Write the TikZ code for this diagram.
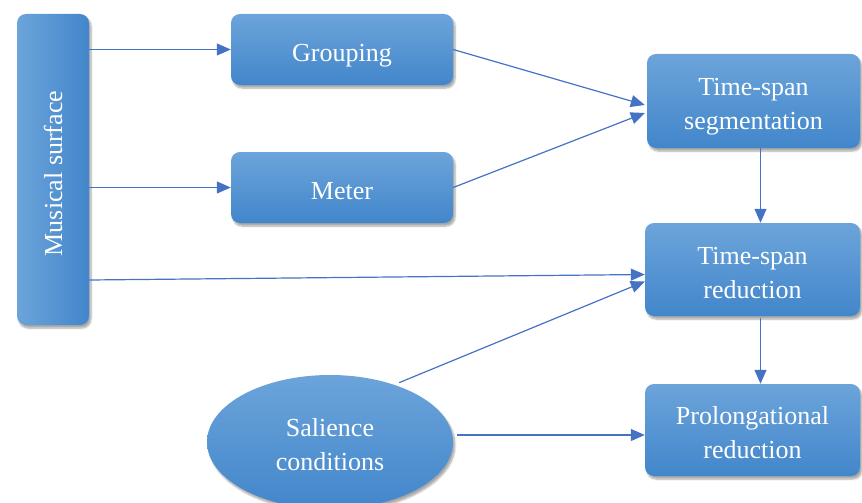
\documentclass[tikz,border=0pt]{standalone}
\usepackage{fontspec}
\setmainfont{Liberation Serif}
\usetikzlibrary{arrows.meta,shadows.blur,shapes.geometric,calc}
\definecolor{boxtop}{RGB}{108,164,218}
\definecolor{boxbot}{RGB}{66,134,203}
\definecolor{linec}{RGB}{68,114,196}
\newcommand{\lbl}[1]{\raisebox{-5pt}[\height][\depth]{\begin{tabular}{@{}c@{}}#1\end{tabular}}}
\tikzset{
  base/.style={text=white, font=\fontsize{26}{34}\selectfont,
    blur shadow={shadow xshift=2pt, shadow yshift=-3pt, shadow blur steps=6, shadow opacity=35}},
  rbox/.style={base, rectangle, rounded corners=9pt, top color=boxtop, bottom color=boxbot, inner sep=0pt},
  vbox/.style={base, rectangle, rounded corners=9pt, left color=boxtop, right color=boxbot, inner sep=0pt},
  ebox/.style={base, ellipse, top color=boxtop, bottom color=boxbot, inner sep=0pt},
  conn/.style={draw=linec, line width=1.2pt, -{Triangle[length=14pt,width=12pt]}, fill=none}
}
\begin{document}
\begin{tikzpicture}[x=1pt,y=-1pt]
\useasboundingbox (0,0) rectangle (862,503);
\node[vbox, minimum width=72pt, minimum height=311pt] (ms) at (53,169.5) {\rotatebox{90}{Musical surface\hspace*{8pt}}};
\node[rbox, minimum width=222pt, minimum height=71pt] (grp) at (342,49.5) {\lbl{Grouping}};
\node[rbox, minimum width=222pt, minimum height=71pt] (met) at (342,187.5) {\lbl{Meter}};
\node[rbox, minimum width=213pt, minimum height=94pt] (tss) at (753.5,101) {\lbl{Time-span\\segmentation}};
\node[rbox, minimum width=215pt, minimum height=93pt] (tsr) at (752.5,269.5) {\lbl{Time-span\\reduction}};
\node[rbox, minimum width=215pt, minimum height=92pt] (pr) at (752.5,430) {\lbl{Prolongational\\reduction}};
\node[ebox, minimum width=246pt, minimum height=134pt] (sal) at (330,442) {\lbl{Salience\\conditions}};
\coordinate (ms3) at ($(ms.east)+(0,110.5)$);
\draw[conn] (ms.east |- grp.west) -- (grp.west);
\draw[conn] (ms.east |- met.west) -- (met.west);
\draw[conn] (ms3) -- ($(tsr.west)+(0,5)$);
\draw[conn] (grp.east) -- ($(tss.west)+(-2,4)$);
\draw[conn] (met.east) -- ($(tss.west)+(-2,12)$);
\draw[conn] ($(tss.south)+(7,0)$) -- ($(tsr.north)+(8,0)$);
\draw[conn] ($(tsr.south)+(8,2)$) -- ($(pr.north)+(8,0)$);
\draw[conn] ($(sal.40)+(2,-3)$) -- ($(tsr.west)+(0,12)$);
\draw[conn] ($(sal.east)+(4,-7)$) -- (pr.west |- 0,435);
\end{tikzpicture}
\end{document}
